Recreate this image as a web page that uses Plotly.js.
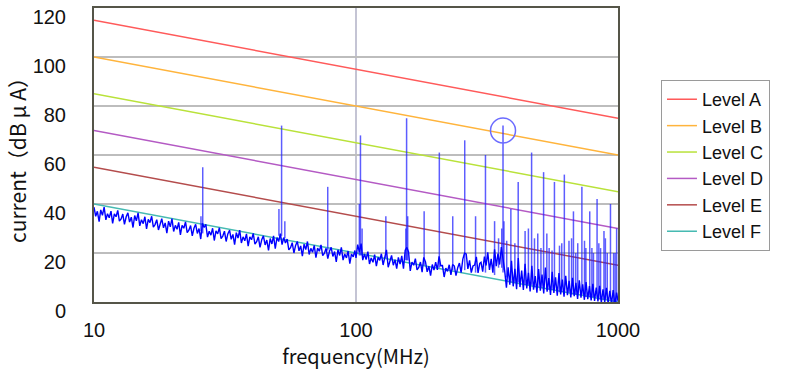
<!DOCTYPE html>
<html>
<head>
<meta charset="utf-8">
<script src="https://cdn.plot.ly/plotly-3.0.1.min.js"></script>
<style>html,body{margin:0;padding:0;background:#fff;}#chart{width:789px;height:382px;}</style>
</head>
<body>
<div id="chart"></div>
<script>
// ---- limit lines (frequency MHz, dBuA) ----
const levelNames = ['Level A', 'Level B', 'Level C', 'Level D', 'Level E', 'Level F'];
const levelFreq = [10, 1000];
const levelA = [115, 75];
const levelB = [100, 60];
const levelC = [85, 45];
const levelD = [70, 30];
const levelE = [55, 15];
const levelF = [40, 0];
const levelColors = ['#ff5a5a', '#ffb43c', '#b9e23a', '#b45ac4', '#b44c4c', '#46bab2'];

// ---- measured noise floor ----
const noiseFreq = [
  10, 10.15, 10.30, 10.46, 10.61, 10.77, 10.93, 11.10, 11.26, 11.43, 11.61, 11.78, 11.96, 12.14, 12.32, 12.50,
  12.69, 12.88, 13.07, 13.27, 13.47, 13.67, 13.88, 14.09, 14.30, 14.51, 14.73, 14.95, 15.18, 15.41, 15.64, 15.87,
  16.11, 16.35, 16.60, 16.85, 17.10, 17.36, 17.62, 17.88, 18.14, 18.42, 18.69, 18.97, 19.26, 19.55, 19.84, 20.14,
  20.44, 20.75, 21.05, 21.37, 21.69, 22.02, 22.35, 22.68, 23.02, 23.37, 23.72, 24.07, 24.43, 24.80, 25.17, 25.55,
  25.93, 26.32, 26.72, 27.12, 27.52, 27.94, 28.36, 28.78, 29.21, 29.65, 30.10, 30.55, 31.01, 31.47, 31.94, 32.42,
  32.91, 33.40, 33.90, 34.41, 34.93, 35.45, 35.98, 36.52, 37.07, 37.63, 38.19, 38.76, 39.34, 39.93, 40.53, 41.14,
  41.76, 42.38, 43.02, 43.67, 44.32, 44.99, 45.66, 46.35, 47.04, 47.75, 48.46, 49.19, 49.93, 50.68, 51.44, 52.21,
  52.99, 53.79, 54.60, 55.41, 56.25, 57.09, 57.95, 58.81, 59.70, 60.59, 61.50, 62.42, 63.36, 64.31, 65.27, 66.25,
  67.25, 68.26, 69.28, 70.32, 71.37, 72.44, 73.53, 74.63, 75.75, 76.89, 78.04, 79.21, 80.40, 81.61, 82.83, 84.08,
  85.34, 86.62, 87.92, 89.24, 90.57, 91.93, 93.31, 94.71, 96.13, 97.58, 99.04,
  100, 101.5, 103.0, 104.6, 106.1, 107.7, 109.3, 111.0, 112.6, 114.3, 116.1, 117.8, 119.6, 121.4, 123.2, 125.0,
  126.9, 128.8, 130.7, 132.7, 134.7, 136.7, 138.8, 140.9, 143.0, 145.1, 147.3, 149.5, 151.8, 154.1, 156.4, 158.7,
  161.1, 163.5, 166.0, 168.5, 171.0, 173.6, 176.2, 178.8, 181.4, 184.2, 186.9, 189.7, 192.6, 195.5, 198.4, 201.4,
  204.4, 207.5, 210.6, 213.8, 217.0, 220.2, 223.5, 226.9, 230.3, 233.8, 237.3, 240.8, 244.5, 248.1, 251.9, 255.7,
  259.5, 263.4, 267.3, 271.3, 275.4, 279.6, 283.8, 288.0, 292.3, 296.7,
  300, 304.5, 309.1, 313.7, 318.4, 323.2, 328.1, 333, 338, 343.1, 348.2, 353.4, 358.7, 364.1, 369.6, 375.1, 380.7,
  386.4, 392.2, 398.1, 404.1, 410.2, 416.3, 422.6, 428.9, 435.3, 441.9, 448.5, 455.2, 462, 469, 476, 483.2, 490.4,
  497.8, 505.3, 512.9, 520.6, 528.4, 536.3, 544.3, 552.5, 560.8, 569.2, 577.7, 586.4, 595.2, 604.1, 613.2, 622.4,
  631.7, 641.2, 650.8, 660.6, 670.5, 680.6, 690.8, 701.1, 711.6, 722.3, 733.1, 744.1, 755.3, 766.6, 778.1, 789.8,
  801.7, 813.7, 825.9, 838.3, 850.9, 863.7, 876.6, 889.8, 903.1, 916.7, 930.4, 944.4, 958.5, 972.9, 987.5, 1000
];
const noiseLevel = [
  38.7, 35.0, 37.0, 32.8, 37.6, 35.4, 38.7, 33.5, 36.0, 34.4, 37.1, 32.1, 36.0, 34.8, 37.4, 33.0,
  33.9, 35.9, 31.7, 34.8, 36.4, 32.6, 34.6, 30.4, 35.3, 33.1, 36.4, 31.1, 33.6, 32.0, 34.8, 29.8,
  33.7, 32.4, 35.0, 30.6, 31.6, 33.6, 29.4, 32.4, 34.0, 30.3, 32.3, 28.1, 33.0, 30.7, 34.0, 28.8,
  31.3, 29.7, 32.5, 27.4, 31.3, 30.1, 32.7, 28.3, 29.3, 31.2, 27.0, 30.1, 31.7, 28.0, 30.0, 25.7,
  32.1, 30.4, 31.7, 26.5, 28.9, 27.3, 30.1, 25.1, 29.0, 27.8, 30.3, 25.9, 26.9, 28.9, 24.7, 27.8,
  29.3, 25.6, 27.6, 23.4, 28.3, 26.1, 29.3, 24.1, 26.6, 25.0, 27.8, 22.8, 26.6, 25.4, 28.0, 23.6,
  24.6, 26.6, 22.3, 25.4, 27.0, 23.3, 25.3, 21.1, 25.9, 23.7, 27.0, 21.8, 26.3, 24.7, 27.9, 23.4,
  26.3, 24.1, 25.7, 21.3, 22.2, 24.2, 20.0, 23.1, 24.7, 20.9, 22.9, 18.7, 23.6, 21.4, 24.7, 19.4,
  21.9, 20.3, 23.1, 18.1, 22.0, 20.7, 23.3, 18.9, 19.9, 21.9, 17.7, 20.7, 22.3, 18.6, 20.6, 16.4,
  21.3, 19.0, 22.3, 17.1, 19.6, 18.0, 20.8, 15.7, 19.6, 18.4, 21.0,
  18.0, 23.4, 20.4, 23.8, 17.1, 19.6, 17.3, 20.6, 15.5, 18.0, 16.2, 19.3, 14.6, 18.2, 17.0, 19.7,
  15.1, 19.1, 21.3, 14.2, 17.3, 19.0, 15.0, 17.3, 13.6, 18.2, 15.5, 18.8, 13.6, 21.1, 22.3, 20.4,
  12.7, 16.3, 15.0, 17.7, 13.1, 14.1, 16.3, 12.2, 18.2, 16.4, 12.3, 14.6, 10.8, 15.3, 13.0, 16.3,
  13.1, 18.6, 14.8, 14.9, 10.2, 13.8, 12.5, 15.2, 11.1, 15.3, 14.7, 10.8, 14.0, 15.9, 12.0, 17.5,
  19.9, 19.6, 13.5, 17.0, 12.0, 14.7, 15.1, 18.4, 11.9, 15.8,
  16.2, 12.4, 18.5, 14.9, 20.3, 13.1, 17.6, 12.0, 21.5, 14.6, 19.8, 15.3, 22.4, 18.0, 12.5, 5.8, 14.2,
  7.1, 16.8, 6.4, 13.5, 5.2, 17.9, 6.1, 12.8, 4.9, 15.6, 5.5, 11.9, 4.3, 14.8, 5.0, 10.6, 3.8,
  13.4, 4.6, 11.2, 3.5, 14.1, 4.2, 9.8, 2.9, 12.3, 3.7, 10.1, 2.6, 11.8, 3.1, 9.2, 2.2,
  10.7, 2.8, 8.6, 1.9, 9.9, 2.4, 7.8, 1.3, 8.9, 1.8, 7.2, 0.9, 8.1, 1.2, 6.5, 0.6,
  7.4, 0.4, 5.9, 0.2, 6.6, -0.3, 5.2, -0.1, 5.8, -0.6, 4.6, -0.8, 4.9, -1.0, 3.8, 0.5
];

// ---- emission spikes (harmonics), peak and base level ----
const spikeFreq = [
  26, 25.6, 52, 50.8, 53.5, 78, 104, 103, 105.5, 130, 156, 155, 157.5, 182, 208, 234, 260, 286, 312, 338, 350,
  360, 364, 367, 376, 390, 404, 416, 442, 455, 468, 480, 494, 508, 520, 535, 546, 560, 572, 598, 610, 624, 650,
  665, 676, 690, 702, 728, 745, 754, 780, 795, 806, 832, 845, 858, 884, 895, 910, 936, 962, 975, 988
];
const spikePeak = [
  55, 35, 72, 38, 33, 47, 68, 40, 30, 35, 75, 30, 35, 37, 61, 35, 66, 35, 60, 33, 26,
  30, 72, 33, 25, 38, 24, 49, 29, 30, 61, 26, 28, 22, 53, 28, 22, 21, 49, 23, 24, 52, 25,
  26, 37, 20, 24, 47, 25, 22, 37, 22, 20, 42, 24, 22, 29, 26, 20, 40, 20, 20, 30
];
const spikeBase = [
  28, 29, 27, 27, 26, 21, 19, 19, 19, 18, 17, 17, 17, 15, 14, 13, 13, 12, 12, 11, 14,
  14, 12, 13, 10, 8, 8, 8, 7, 7, 7, 6, 6, 6, 6, 5, 5, 5, 5, 4, 4, 4, 4,
  3, 3, 3, 3, 3, 3, 2, 2, 2, 2, 2, 1, 1, 1, 1, 1, 1, 0, 0, 0
];
// highlighted (circled) harmonic
const markedFreq = [364];
const markedLevel = [70];

// ---- axis ticks ----
const xTickVals = [10, 100, 1000];
const xTickText = ['10', '100', '1000'];
const yTickVals = [0, 20, 40, 60, 80, 100, 120];

// ---- build traces ----
const levels = [levelA, levelB, levelC, levelD, levelE, levelF];
const traces = levels.map((vals, i) => ({
  type: 'scatter', mode: 'lines', name: levelNames[i],
  x: levelFreq, y: vals,
  line: {color: levelColors[i], width: 1.5},
  hoverinfo: 'skip'
}));

const sx = [], sy = [];
spikeFreq.forEach((f, i) => { sx.push(f, f, null); sy.push(spikeBase[i], spikePeak[i], null); });

traces.push({
  type: 'scatter', mode: 'lines', x: sx, y: sy, showlegend: false,
  line: {color: 'rgba(30,30,255,0.72)', width: 1.5}, hoverinfo: 'skip'
});
traces.push({
  type: 'scatter', mode: 'lines', x: noiseFreq, y: noiseLevel, showlegend: false,
  line: {color: '#0000ff', width: 1.4}, hoverinfo: 'skip'
});
traces.push({
  type: 'scatter', mode: 'markers', x: markedFreq, y: markedLevel, showlegend: false,
  marker: {symbol: 'circle-open', size: 25, color: '#6b6bff', line: {width: 1.5}},
  hoverinfo: 'skip'
});

const tickFont = {family: 'Liberation Sans, Arial, sans-serif', size: 20, color: '#111'};

const layout = {
  width: 789, height: 382,
  margin: {l: 94, r: 171, t: 8, b: 80},
  paper_bgcolor: '#fff', plot_bgcolor: '#fff',
  showlegend: true,
  legend: {
    x: 1.082, y: 0.755, xanchor: 'left', yanchor: 'top',
    bgcolor: '#fff', bordercolor: '#9a9a9a', borderwidth: 1,
    font: {family: 'Liberation Sans, Arial, sans-serif', size: 18, color: '#111'},
    tracegroupgap: 0
  },
  xaxis: {
    type: 'log', range: [1, 3],
    tickvals: xTickVals, ticktext: xTickText,
    showgrid: true, gridcolor: '#c4c4d4', gridwidth: 1.5,
    showline: true, mirror: true, linecolor: '#555548', linewidth: 2,
    ticks: '', ticklabelstandoff: 9, tickfont: tickFont,
    title: {text: 'frequency(MHz)', font: {family: 'Noto Sans CJK JP, sans-serif', size: 20, color: '#111'}, standoff: 10},
    zeroline: false, automargin: false
  },
  yaxis: {
    range: [0, 120], tickvals: yTickVals,
    showgrid: true, gridcolor: '#bdbdbd', gridwidth: 1.5,
    showline: true, mirror: true, linecolor: '#555548', linewidth: 2,
    ticks: '', ticklabelstandoff: 22, ticklabelshift: 9, tickfont: tickFont,
    title: {text: 'current（dB μ A）', font: {family: 'Noto Sans CJK JP, sans-serif', size: 21, color: '#111'}, standoff: 0},
    zeroline: false, automargin: false
  }
};

Plotly.newPlot('chart', traces, layout, {staticPlot: true, displayModeBar: false});
</script>
</body>
</html>
